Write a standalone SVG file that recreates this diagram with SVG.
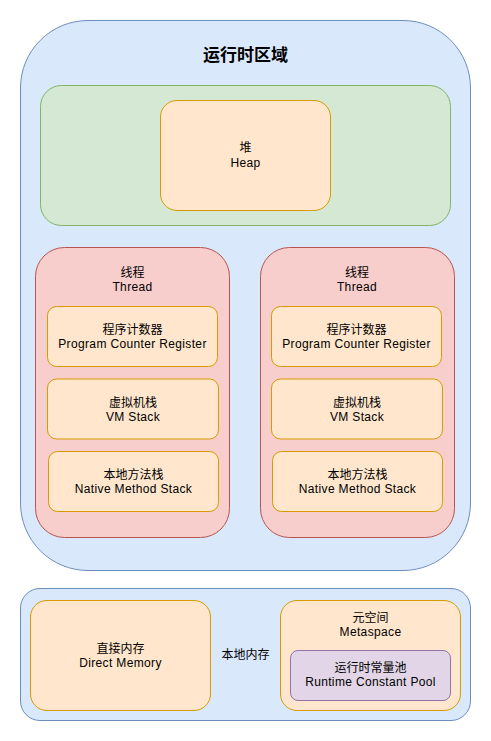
<svg xmlns="http://www.w3.org/2000/svg" width="491" height="741" viewBox="0 0 491 741">
<style>
text{font-family:"Liberation Sans","Noto Sans CJK SC",sans-serif;font-size:12px;fill:#000;text-anchor:middle}
.e{letter-spacing:0.35px}
.t{font-size:17px;font-weight:bold}
.blue{fill:#dae8fc;stroke:#6c8ebf}
.green{fill:#d5e8d4;stroke:#82b366}
.red{fill:#f8cecc;stroke:#b85450}
.org{fill:#ffe6cc;stroke:#d79b00}
.pur{fill:#e1d5e7;stroke:#9673a6}
</style>
<rect width="491" height="741" fill="#fff"/>
<g id="runtime-area">
<rect class="blue" x="20.5" y="20.5" width="450" height="550" rx="67.5"/>
<text class="t" x="245.5" y="61">运行时区域</text>
</g>
<g id="heap-area">
<rect class="green" x="40.5" y="85.5" width="410" height="140" rx="21"/>
</g>
<g id="heap">
<rect class="org" x="160.5" y="100.5" width="170" height="110" rx="16.5"/>
<text x="245.5" y="152">堆</text>
<text class="e" x="245.5" y="166.5">Heap</text>
</g>
<g id="thread1">
<rect class="red" x="35.5" y="247.5" width="194" height="290" rx="29"/>
<text x="132.5" y="277">线程</text>
<text class="e" x="132.5" y="290.5">Thread</text>
</g>
<g id="pc1">
<rect class="org" x="47.5" y="306.5" width="170" height="60" rx="9"/>
<text x="132.5" y="334">程序计数器</text>
<text class="e" x="132.5" y="348">Program Counter Register</text>
</g>
<g id="vm1">
<rect class="org" x="47.5" y="379" width="171" height="60" rx="9"/>
<text x="133" y="406.5">虚拟机栈</text>
<text class="e" x="133" y="420.5">VM Stack</text>
</g>
<g id="native1">
<rect class="org" x="48.5" y="451.5" width="170" height="60" rx="9"/>
<text x="133.5" y="479">本地方法栈</text>
<text class="e" x="133.5" y="493">Native Method Stack</text>
</g>
<g id="thread2">
<rect class="red" x="260.5" y="247.5" width="194" height="290" rx="29"/>
<text x="357" y="277">线程</text>
<text class="e" x="357" y="290.5">Thread</text>
</g>
<g id="pc2">
<rect class="org" x="271.5" y="306.5" width="170" height="60" rx="9"/>
<text x="356.5" y="334">程序计数器</text>
<text class="e" x="356.5" y="348">Program Counter Register</text>
</g>
<g id="vm2">
<rect class="org" x="271.5" y="379" width="171" height="60" rx="9"/>
<text x="357" y="406.5">虚拟机栈</text>
<text class="e" x="357" y="420.5">VM Stack</text>
</g>
<g id="native2">
<rect class="org" x="272.5" y="451.5" width="170" height="60" rx="9"/>
<text x="357.5" y="479">本地方法栈</text>
<text class="e" x="357.5" y="493">Native Method Stack</text>
</g>
<g id="native-memory">
<rect class="blue" x="20.5" y="588.5" width="450" height="132" rx="19.5"/>
<text x="245.5" y="658.5">本地内存</text>
</g>
<g id="direct-memory">
<rect class="org" x="30.5" y="600.5" width="180" height="110" rx="16.5"/>
<text x="120.5" y="653">直接内存</text>
<text class="e" x="120.5" y="666.5">Direct Memory</text>
</g>
<g id="metaspace">
<rect class="org" x="280.5" y="600.5" width="180" height="110" rx="16.5"/>
<text x="370.5" y="622">元空间</text>
<text class="e" x="370.5" y="636">Metaspace</text>
</g>
<g id="runtime-constant-pool">
<rect class="pur" x="290.5" y="650.5" width="160" height="50" rx="7.5"/>
<text x="370.5" y="672">运行时常量池</text>
<text class="e" x="370.5" y="686">Runtime Constant Pool</text>
</g>
<g id="connectors"></g>
</svg>
